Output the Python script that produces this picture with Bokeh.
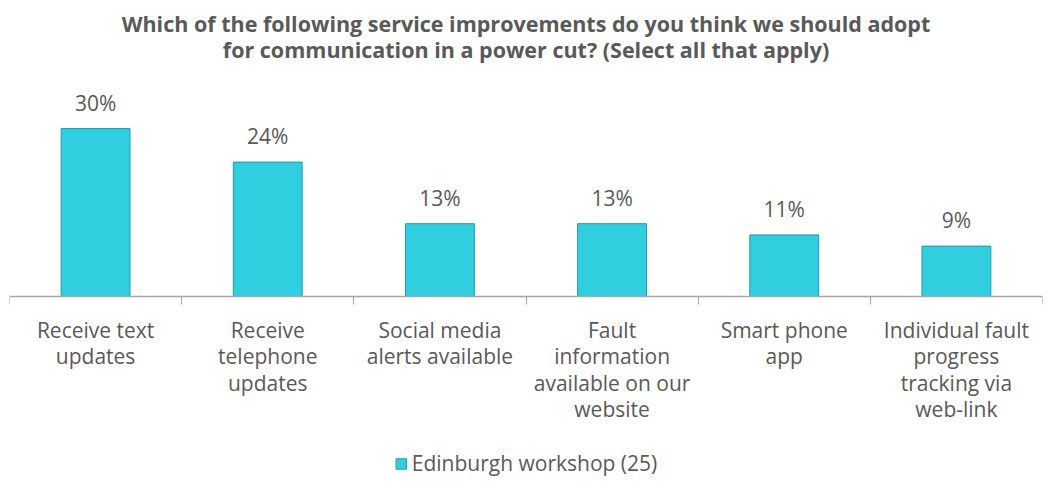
from bokeh.plotting import figure
from bokeh.models import Range1d, FixedTicker, ColumnDataSource, Legend, LegendItem, Label
from bokeh.embed import file_html
from bokeh.resources import INLINE
from bokeh.core.properties import value

categories = ["Receive text\nupdates", "Receive\ntelephone\nupdates", "Social media\nalerts available",
              "Fault\ninformation\navailable on our\nwebsite", "Smart phone\napp",
              "Individual fault\nprogress\ntracking via\nweb-link"]
values = [30, 24, 13, 13, 11, 9]
labels = ["30%", "24%", "13%", "13%", "11%", "9%"]
series_name = "Edinburgh workshop (25)"
title_lines = ["Which of the following service improvements do you think we should adopt",
               "for communication in a power cut? (Select all that apply)"]

FONT = "Open Sans"
GREY = "#595959"
FRAME_W, FRAME_H = 1033, 485
AXIS_Y = 296          # pixels from the top of the frame to the baseline
PX_PER_PCT = 5.6

xs = [i + 0.5 for i in range(len(values))]
src = ColumnDataSource(dict(x=xs, top=values, lab=labels))

p = figure(frame_width=FRAME_W, frame_height=FRAME_H, output_backend="svg", toolbar_location=None,
           x_range=Range1d(0, len(values)),
           y_range=Range1d(-(FRAME_H - AXIS_Y) / PX_PER_PCT, AXIS_Y / PX_PER_PCT),
           min_border_left=9, min_border_right=9, min_border_top=0, min_border_bottom=0)
p.title = None
p.outline_line_color = None
p.grid.grid_line_color = None
p.yaxis.visible = False

# title (two centred lines)
for line, sy in zip(title_lines, [FRAME_H - 23, FRAME_H - 49]):
    p.add_layout(Label(x=FRAME_W / 2, y=sy, x_units="screen", y_units="screen", text=line,
                       text_align="center", text_baseline="middle", text_font=FONT,
                       text_font_size="21.5px", text_font_style="bold", text_color=GREY))

r = p.vbar(x="x", top="top", width=0.4, bottom=0, source=src,
           fill_color="#30CEDE", line_color="#1F9DAA", line_width=1)
p.text(x="x", y="top", text="lab", source=src, text_align="center", text_baseline="bottom",
       y_offset=-12, text_font=value(FONT), text_font_size="21px", text_color=GREY)

ax = p.xaxis[0]
ax.fixed_location = 0
ax.ticker = FixedTicker(ticks=xs, minor_ticks=list(range(len(values) + 1)))
ax.major_label_overrides = {x: c for x, c in zip(xs, categories)}
ax.major_tick_line_color = None
ax.major_tick_out = 0
ax.major_tick_in = 0
ax.minor_tick_line_color = "#A6A6A6"
ax.minor_tick_in = 0
ax.minor_tick_out = 8
ax.axis_line_color = "#A6A6A6"
ax.axis_line_width = 1.5
ax.major_label_text_font = FONT
ax.major_label_text_font_size = "21px"
ax.major_label_text_line_height = 0.95
ax.major_label_text_color = GREY
ax.major_label_standoff = 11

legend = Legend(items=[LegendItem(label=series_name, renderers=[r])], orientation="horizontal",
                location="bottom_center", label_text_font=FONT, label_text_font_size="21px",
                label_text_color=GREY, glyph_width=13, glyph_height=13, border_line_color=None,
                background_fill_alpha=0, margin=8, padding=2, label_standoff=5)
p.add_layout(legend, "center")

open("out.html", "w").write(file_html(p, INLINE))
